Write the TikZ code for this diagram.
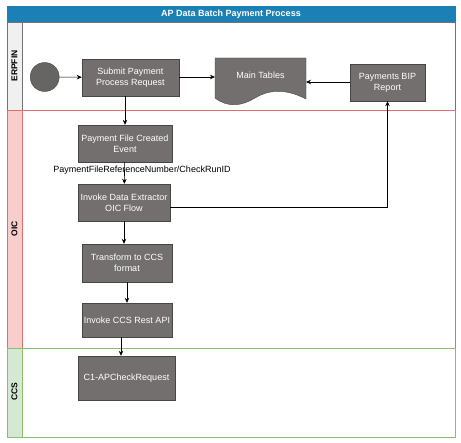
\documentclass[tikz,border=0pt]{standalone}
\usepackage{fontspec}
\setmainfont{Liberation Sans}
\usepackage{tikz}
\usetikzlibrary{arrows.meta}
\definecolor{titleblue}{RGB}{26,128,182}
\definecolor{boxgray}{RGB}{115,111,111}
\definecolor{boxline}{RGB}{70,70,70}
\definecolor{oicred}{RGB}{220,110,110}
\definecolor{oicfill}{RGB}{248,206,204}
\definecolor{ccsgreen}{RGB}{140,190,110}
\definecolor{ccsfill}{RGB}{213,232,212}
\tikzstyle{task} = [draw=boxline, fill=boxgray, text=white, align=center, font={\fontsize{9}{11}\selectfont}, inner sep=1pt]
\tikzstyle{lanelabel} = [rotate=90, font={\fontsize{8.5}{10}\selectfont\bfseries}]
\tikzstyle{flow} = [->, >={Stealth[length=5pt,width=4.5pt]}, line width=0.6pt]

\begin{document}
\begin{tikzpicture}[x=1pt,y=-1pt]
    \useasboundingbox (0,0) rectangle (461,443);
    % lanes
    \node[fill=titleblue, draw=titleblue, minimum width=448pt, minimum height=16pt, text=white, font={\fontsize{9}{11}\selectfont\bfseries}](title) at (231,14){AP Data Batch Payment Process};
    \draw[black!55, fill=white] (7,22) rectangle (455,110);
    \draw[black!55, fill=black!6] (7,22) rectangle (22,110);
    \draw[oicred] (7,110) rectangle (455,348);
    \draw[oicred, fill=oicfill] (7,110) rectangle (22,348);
    \draw[ccsgreen] (7,348) rectangle (455,437);
    \draw[ccsgreen, fill=ccsfill] (7,348) rectangle (22,437);
    \node[lanelabel](erpfin) at (14.5,66){ERPFIN};
    \node[lanelabel](oic) at (14.5,229){OIC};
    \node[lanelabel](ccs) at (14.5,392){CCS};
    % steps
    \node[circle, draw=boxline, fill=boxgray!90!black, minimum size=29pt, inner sep=0pt](start) at (44.7,77){};
    \node[task, minimum width=97pt, minimum height=37pt](submit) at (130.5,77.5){Submit Payment\\Process Request};
    \draw[boxline, fill=boxgray] (215,58) -- (306,58) -- (306,99)
        .. controls (285,88) and (268,90) .. (255,98)
        .. controls (242,106) and (228,108) .. (215,98) -- cycle;
    \node[text=white, font={\fontsize{9}{11}\selectfont}](main) at (260.5,75){Main Tables};
    \coordinate (mainw) at (215,77);
    \coordinate (maine) at (306,82);
    \node[task, minimum width=75pt, minimum height=37pt](bip) at (387.5,82.5){Payments BIP\\Report};
    \node[task, minimum width=94pt, minimum height=37pt](pfc) at (125,143.5){Payment File Created\\Event};
    \node[task, minimum width=92pt, minimum height=37pt](invoke) at (124,202.5){Invoke Data Extractor\\OIC Flow};
    \node[task, minimum width=90pt, minimum height=38pt](transform) at (127,263){Transform to CCS\\format};
    \node[task, minimum width=90pt, minimum height=34pt](ccsapi) at (127,320){Invoke CCS Rest API};
    \node[task, minimum width=97pt, minimum height=44pt](c1) at (126.5,378){C1-APCheckRequest};
    % connectors
    \draw[flow](start)--(submit);
    \draw[flow](submit.east |- mainw)--(mainw);
    \draw[flow](bip.west |- maine)--(maine);
    \draw[flow](pfc.north |- submit.south)--(pfc.north);
    \draw[flow](pfc)--(invoke);
    \node[font={\fontsize{9}{10}\selectfont}](ref) at (142,170){PaymentFileReferenceNumber/CheckRunID};
    \draw[flow](invoke.south)--(invoke.south |- transform.north);
    \draw[flow](transform)--(ccsapi);
    \draw[flow]([xshift=-6pt]ccsapi.south)--([xshift=-6pt]ccsapi.south |- c1.north);
    \draw[flow]([yshift=-4.5pt]invoke.east) -| (bip.south);
\end{tikzpicture}
\end{document}
